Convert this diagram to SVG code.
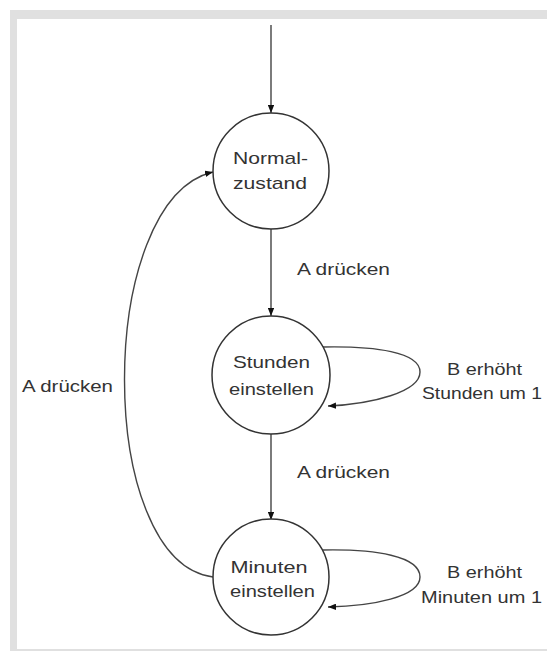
<svg xmlns="http://www.w3.org/2000/svg" width="547" height="651" viewBox="0 0 547 651">
  <defs>
    <marker id="arrow" viewBox="0 0 10 8" refX="10" refY="4" markerWidth="8" markerHeight="6.4" markerUnits="userSpaceOnUse" orient="auto">
      <path d="M0,0 L10,4 L0,8 Z" fill="#111"/>
    </marker>
    <style>
      .state { fill: #ffffff; stroke: #333333; stroke-width: 1.5; }
      .edge { fill: none; stroke: #444444; stroke-width: 1.4; marker-end: url(#arrow); }
      text { font-family: "Liberation Sans", Arial, sans-serif; font-size: 17px; fill: #333333; }
      .mid { text-anchor: middle; }
    </style>
  </defs>

  <!-- frame -->
  <rect x="10" y="10" width="537" height="641" fill="#e0e0e0"/>
  <rect x="17" y="19" width="530" height="630" fill="#ffffff"/>

  <g id="connectors">
    <!-- initial transition -->
    <line class="edge" x1="271" y1="25" x2="271" y2="113"/>
    <!-- Normalzustand -> Stunden einstellen -->
    <line class="edge" x1="271" y1="229" x2="271" y2="316"/>
    <text x="297" y="275" textLength="93" lengthAdjust="spacingAndGlyphs">A drücken</text>
    <!-- Stunden einstellen -> Minuten einstellen -->
    <line class="edge" x1="271" y1="434" x2="271" y2="520"/>
    <text x="297" y="478" textLength="93" lengthAdjust="spacingAndGlyphs">A drücken</text>
    <!-- Minuten einstellen -> Normalzustand -->
    <path class="edge" d="M213,577 C95,562 95,200 213,172"/>
    <text x="22" y="392" textLength="91" lengthAdjust="spacingAndGlyphs">A drücken</text>
    <!-- self loop: Stunden -->
    <path class="edge" d="M323,347 C375,346 420,352 420,372 C420,392 372,404 328,406"/>
    <text x="447" y="375" textLength="75" lengthAdjust="spacingAndGlyphs">B erhöht</text>
    <text x="422" y="399" textLength="120" lengthAdjust="spacingAndGlyphs">Stunden um 1</text>
    <!-- self loop: Minuten -->
    <path class="edge" d="M323,550 C375,549 420,556 420,577 C420,597 372,606 328,607"/>
    <text x="447" y="578" textLength="75" lengthAdjust="spacingAndGlyphs">B erhöht</text>
    <text x="421" y="603" textLength="121" lengthAdjust="spacingAndGlyphs">Minuten um 1</text>
  </g>

  <g id="normalzustand">
    <circle class="state" cx="271" cy="171" r="58"/>
    <text class="mid" x="270.5" y="164" textLength="75" lengthAdjust="spacingAndGlyphs">Normal-</text>
    <text class="mid" x="270" y="189" textLength="74" lengthAdjust="spacingAndGlyphs">zustand</text>
  </g>

  <g id="stunden-einstellen">
    <circle class="state" cx="271" cy="375" r="59"/>
    <text class="mid" x="271.5" y="368" textLength="77" lengthAdjust="spacingAndGlyphs">Stunden</text>
    <text class="mid" x="271.5" y="395" textLength="85" lengthAdjust="spacingAndGlyphs">einstellen</text>
  </g>

  <g id="minuten-einstellen">
    <circle class="state" cx="271" cy="577" r="58"/>
    <text class="mid" x="269" y="573" textLength="77" lengthAdjust="spacingAndGlyphs">Minuten</text>
    <text class="mid" x="272.5" y="597" textLength="85" lengthAdjust="spacingAndGlyphs">einstellen</text>
  </g>
</svg>
